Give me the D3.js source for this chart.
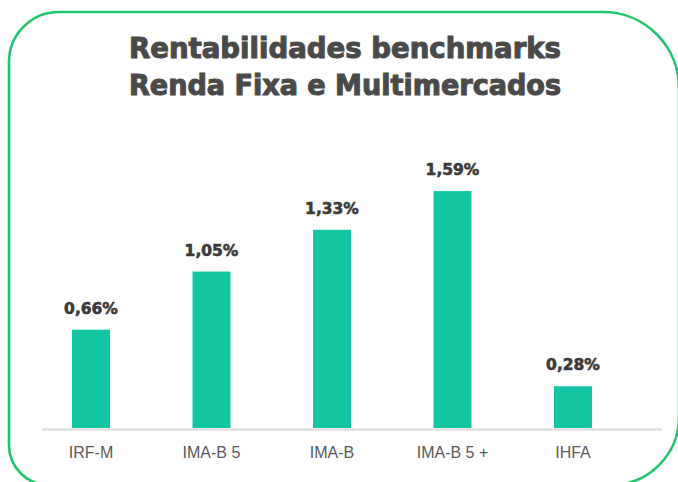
<!DOCTYPE html>
<html>
<head>
<meta charset="utf-8">
<script src="https://cdn.jsdelivr.net/npm/d3@7"></script>
<style>
  html, body { margin: 0; padding: 0; background: #fff; }
</style>
</head>
<body>
<div id="chart"></div>
<script>
"use strict";

// Rentabilidades benchmarks - Renda Fixa e Multimercados
const categories = ["IRF-M", "IMA-B 5", "IMA-B", "IMA-B 5 +", "IHFA"];
const values = [0.66, 1.05, 1.33, 1.59, 0.28];
const titleLines = ["Rentabilidades benchmarks", "Renda Fixa e Multimercados"];

const width = 678, height = 482;

const svg = d3.select("#chart")
  .append("svg")
  .attr("width", width)
  .attr("height", height);

// rounded frame, corners of different radius
const L = 9, T = 12, R = 679, B = 485;
const frame = d3.path();
frame.moveTo(L, T + 50);
frame.arcTo(L, T, L + 50, T, 50);
frame.lineTo(R - 76, T);
frame.arcTo(R, T, R, T + 76, 76);
frame.lineTo(R, B - 68);
frame.arcTo(R, B, R - 68, B, 68);
frame.lineTo(L + 40, B);
frame.arcTo(L, B, L, B - 40, 40);
frame.closePath();

svg.append("path")
  .attr("d", frame.toString())
  .attr("fill", "none")
  .attr("stroke", "#1fc46c")
  .attr("stroke-width", 2.6);

// title
svg.selectAll("text.title")
  .data(titleLines)
  .enter()
  .append("text")
  .attr("class", "title")
  .attr("x", 345)
  .attr("y", (d, i) => 58 + i * 37)
  .attr("text-anchor", "middle")
  .attr("font-family", "'DejaVu Sans Condensed', 'DejaVu Sans', sans-serif")
  .attr("font-stretch", "condensed")
  .attr("font-weight", "bold")
  .attr("font-size", "29px")
  .attr("fill", "#4a4a4a")
  .attr("stroke", "#4a4a4a")
  .attr("stroke-width", 1)
  .attr("textLength", 432)
  .attr("lengthAdjust", "spacingAndGlyphs")
  .text(d => d);

const x = d3.scaleBand()
  .domain(categories)
  .range([30.75, 633.25])
  .paddingInner(0.685)
  .paddingOuter(0.3425);

const y = d3.scaleLinear()
  .domain([0, 1.8])
  .range([428, 428 - 1.8 * 149]);

// baseline
svg.append("line")
  .attr("x1", 42)
  .attr("x2", 662)
  .attr("y1", 429.5)
  .attr("y2", 429.5)
  .attr("stroke", "#d9d9d9")
  .attr("stroke-width", 2);

const data = categories.map((c, i) => ({ cat: c, value: values[i] }));

svg.selectAll("rect.bar")
  .data(data)
  .enter()
  .append("rect")
  .attr("class", "bar")
  .attr("x", d => x(d.cat))
  .attr("y", d => y(d.value))
  .attr("width", x.bandwidth())
  .attr("height", d => y(0) - y(d.value))
  .attr("fill", "#14c5a3");

// value labels
svg.selectAll("text.value")
  .data(data)
  .enter()
  .append("text")
  .attr("class", "value")
  .attr("x", d => x(d.cat) + x.bandwidth() / 2)
  .attr("y", d => y(d.value) - 16)
  .attr("text-anchor", "middle")
  .attr("font-family", "'DejaVu Sans', sans-serif")
  .attr("font-weight", "bold")
  .attr("font-size", "15.5px")
  .attr("fill", "#3a3a3a")
  .attr("stroke", "#3a3a3a")
  .attr("stroke-width", 0.6)
  .text(d => d.value.toFixed(2).replace(".", ",") + "%");

// category labels
svg.selectAll("text.cat")
  .data(data)
  .enter()
  .append("text")
  .attr("class", "cat")
  .attr("x", d => x(d.cat) + x.bandwidth() / 2)
  .attr("y", 458)
  .attr("text-anchor", "middle")
  .attr("font-family", "'Liberation Sans', Arial, sans-serif")
  .attr("font-size", "16px")
  .attr("fill", "#595959")
  .text(d => d.cat);
</script>
</body>
</html>
